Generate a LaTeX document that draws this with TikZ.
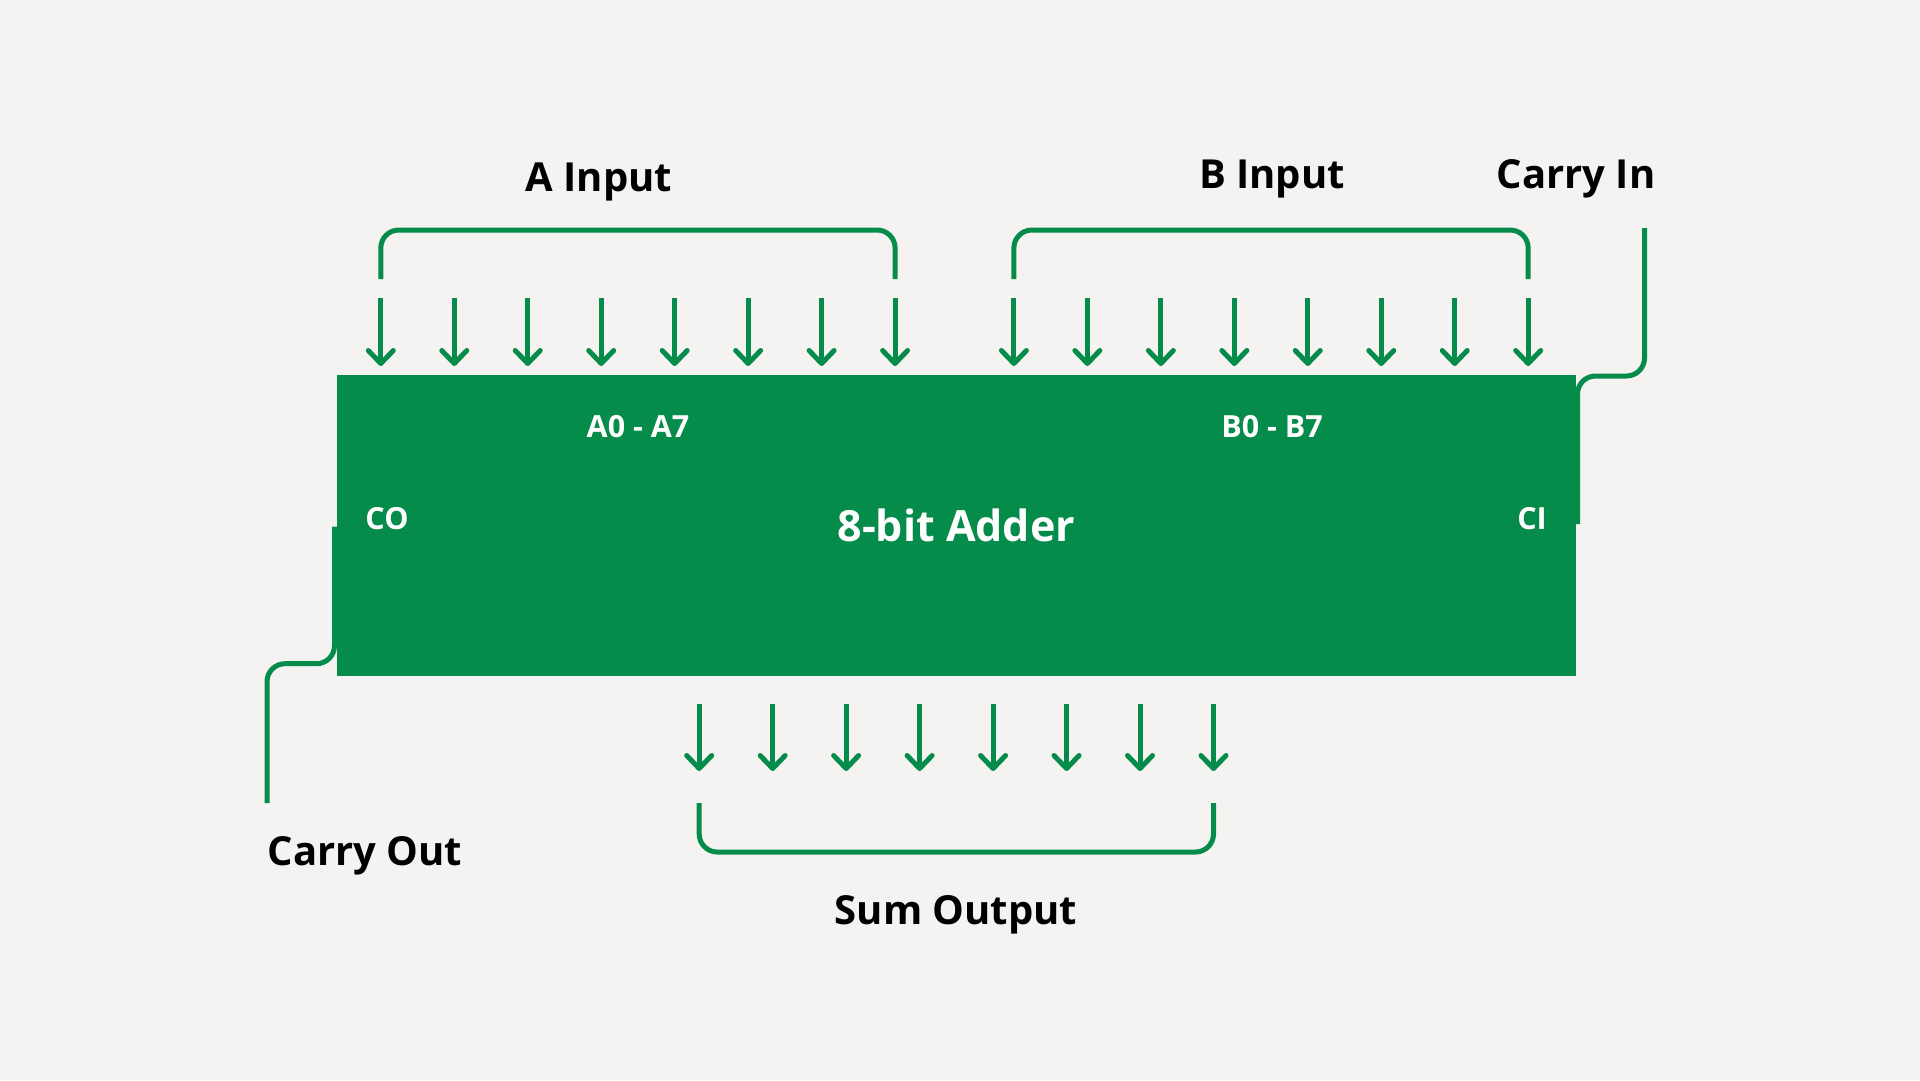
\documentclass[tikz,border=0pt]{standalone}
\usepackage{fontspec}
\setmainfont{Open Sans}
\usetikzlibrary{arrows.meta}
\definecolor{grn}{RGB}{5,139,74}
\definecolor{bgc}{RGB}{245,243,241}
\begin{document}
\begin{tikzpicture}[x=1pt,y=-1pt,
  wire/.style={draw=grn, line width=5pt},
  pin/.style={wire, -{Straight Barb[length=13pt,width=25pt,round]}},
  brk/.style={wire, rounded corners=18pt},
  biglbl/.style={font=\fontsize{40}{48}\selectfont\bfseries, text=black, inner sep=0pt},
  boxlbl/.style={font=\fontsize{30.5}{36}\selectfont\bfseries, text=white, inner sep=0pt},
  adder/.style={fill=grn, draw=none, minimum width=1239.3pt, minimum height=301.3pt, inner sep=0pt}]
\useasboundingbox (0,0) rectangle (1920,1080);
\fill[bgc] (0,0) rectangle (1920,1080);

% main block
\node[adder, font=\fontsize{43}{51}\selectfont\bfseries, text=white] (box) at (956.35,525.35) {8-bit Adder};

% A inputs
\foreach \i in {0,...,7} {
  \coordinate (as\i) at ({380.8+73.47*\i},297.5);
  \coordinate (ae\i) at ({380.8+73.47*\i},366);
  \draw[pin] (as\i) -- (ae\i);
}
% B inputs
\foreach \i in {0,...,7} {
  \coordinate (bs\i) at ({1013.9+73.47*\i},297.5);
  \coordinate (be\i) at ({1013.9+73.47*\i},366);
  \draw[pin] (bs\i) -- (be\i);
}
% Sum outputs
\foreach \i in {0,...,7} {
  \coordinate (ss\i) at ({699.2+73.47*\i},704);
  \coordinate (se\i) at ({699.2+73.47*\i},771);
  \draw[pin] (ss\i) -- (se\i);
}

% brackets
\coordinate (abl) at (380.8,279);
\coordinate (abr) at (895.1,279);
\draw[brk] (abl) -- ++(0,-49) -| (abr);
\coordinate (bbl) at (1013.9,279);
\coordinate (bbr) at (1528.2,279);
\draw[brk] (bbl) -- ++(0,-49) -| (bbr);
\coordinate (sbl) at (699.2,803);
\coordinate (sbr) at (1213.5,803);
\draw[brk] (sbl) -- ++(0,49) -| (sbr);

% carry in
\coordinate (cin) at (1644.5,228);
\coordinate (cinend) at (1577.5,524);
\draw[brk] (cin) |- (1577.5,376) -- (cinend);
% carry out
\coordinate (coutstart) at (334.5,526.5);
\coordinate (cout) at (267,803);
\draw[brk] (coutstart) -- (334.5,663.7) -| (cout);

% labels
\node[biglbl] (la) at (598.8,182) {A Input};
\node[biglbl] (lb) at (1272,179) {B Input};
\node[biglbl] (lci) at (1576,179) {Carry In};
\node[biglbl] (lco) at (365,856) {Carry Out};
\node[biglbl] (lsum) at (956,915) {Sum Output};

\node[boxlbl] (a07) at (638,427) {A0 - A7};
\node[boxlbl] (b07) at (1272,427) {B0 - B7};
\node[boxlbl] (co) at (387,519) {CO};
\node[boxlbl] (ci) at (1532,519) {CI};
\end{tikzpicture}
\end{document}
